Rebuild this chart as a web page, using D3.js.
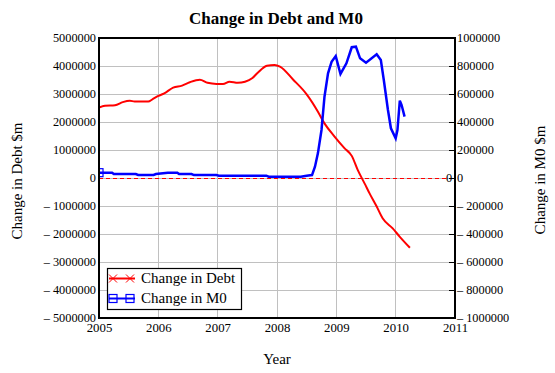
<!DOCTYPE html>
<html>
<head>
<meta charset="utf-8">
<script src="https://cdn.jsdelivr.net/npm/d3@7"></script>
<style>
  body { margin: 0; background: #fff; }
</style>
</head>
<body>
<div id="vis"></div>
<script>
var width = 555;
var height = 373;
var serif = '"Liberation Serif", "DejaVu Serif", "Times New Roman", serif';

// change in debt ($m)
var debtYears = [2005.00, 2005.10, 2005.27, 2005.40, 2005.52, 2005.60, 2005.83, 2005.90, 2006.00, 2006.10,
    2006.25, 2006.40, 2006.53, 2006.70, 2006.83, 2006.98, 2007.09, 2007.20, 2007.34, 2007.46,
    2007.58, 2007.68, 2007.83, 2007.96, 2008.05, 2008.27, 2008.50, 2008.69, 2008.80, 2008.97,
    2009.14, 2009.26, 2009.36, 2009.48, 2009.56, 2009.68, 2009.78, 2009.95, 2010.07, 2010.24];
var debtValues = [2520000, 2580000, 2600000, 2710000, 2760000, 2730000, 2730000, 2810000, 2930000, 3020000,
    3230000, 3300000, 3420000, 3510000, 3400000, 3360000, 3360000, 3440000, 3400000, 3440000,
    3560000, 3770000, 4010000, 4040000, 3980000, 3520000, 2990000, 2370000, 1950000, 1480000,
    1060000, 790000, 290000, -210000, -550000, -1020000, -1440000, -1800000, -2100000, -2490000];

// change in M0 ($m)
var m0Years = [2005.00, 2005.22, 2005.25, 2005.62, 2005.66, 2005.92, 2005.96, 2006.16, 2006.32, 2006.35,
    2006.56, 2006.60, 2006.98, 2007.02, 2007.82, 2007.86, 2008.40, 2008.50, 2008.59, 2008.64,
    2008.69, 2008.75, 2008.80, 2008.86, 2008.92, 2008.99, 2009.07, 2009.17, 2009.26, 2009.33,
    2009.40, 2009.50, 2009.68, 2009.75, 2009.80, 2009.87, 2009.92, 2010.00, 2010.03, 2010.07,
    2010.10, 2010.15];
var m0Values = [38000, 38000, 28500, 28500, 21400, 21400, 28500, 38000, 38000, 28500,
    28500, 21000, 21000, 16500, 16500, 9500, 9500, 16000, 21000, 81000,
    178000, 343000, 580000, 748000, 830000, 871000, 743000, 819000, 934000, 938000,
    855000, 824000, 883000, 843000, 700000, 486000, 355000, 283000, 343000, 552000,
    521000, 438000];

var yearTicks = [2005, 2006, 2007, 2008, 2009, 2010, 2011];
var debtTicks = [5000000, 4000000, 3000000, 2000000, 1000000, 0, -1000000, -2000000, -3000000, -4000000, -5000000];
var m0Ticks = [1000000, 800000, 600000, 400000, 200000, 0, -200000, -400000, -600000, -800000, -1000000];
var seriesNames = ['Change in Debt', 'Change in M0'];

var debt = debtYears.map(function (y, i) { return [y, debtValues[i]]; });
var m0 = m0Years.map(function (y, i) { return [y, m0Values[i]]; });

var plot = { left: 99, right: 455, top: 38, bottom: 318 };

var x = d3.scaleLinear().domain([2005, 2011]).range([plot.left, plot.right]);
var yL = d3.scaleLinear().domain([-5000000, 5000000]).range([plot.bottom, plot.top]);
var yR = d3.scaleLinear().domain([-1000000, 1000000]).range([plot.bottom, plot.top]);

function fmt(d) {
    return d < 0 ? '\u2013 ' + Math.abs(d) : String(d);
}

var svg = d3.select('#vis').append('svg')
    .attr('width', width)
    .attr('height', height)
    .style('font-family', serif);

svg.append('defs').append('clipPath').attr('id', 'clip')
    .append('rect')
    .attr('x', plot.left).attr('y', plot.top)
    .attr('width', plot.right - plot.left).attr('height', plot.bottom - plot.top);

// grid
var grid = svg.append('g').attr('shape-rendering', 'crispEdges');
grid.selectAll('.vg').data(yearTicks).enter().append('line')
    .attr('x1', function (d) { return x(d); }).attr('x2', function (d) { return x(d); })
    .attr('y1', plot.top).attr('y2', plot.bottom)
    .attr('stroke', '#c0c0c0');
grid.selectAll('.hg').data(debtTicks).enter().append('line')
    .attr('x1', plot.left).attr('x2', plot.right)
    .attr('y1', function (d) { return yL(d); }).attr('y2', function (d) { return yL(d); })
    .attr('stroke', '#c0c0c0');

// zero line
svg.append('line')
    .attr('x1', plot.left).attr('x2', plot.right)
    .attr('y1', yL(0)).attr('y2', yL(0))
    .attr('stroke', '#ff0000')
    .attr('stroke-dasharray', '4,3')
    .attr('shape-rendering', 'crispEdges');

// lines
var lines = svg.append('g').attr('clip-path', 'url(#clip)');
lines.append('path')
    .datum(debt)
    .attr('fill', 'none')
    .attr('stroke', '#ff0000')
    .attr('stroke-width', 2)
    .attr('d', d3.line().curve(d3.curveMonotoneX).x(function (d) { return x(d[0]); }).y(function (d) { return yL(d[1]); }));
lines.append('path')
    .datum(m0)
    .attr('fill', 'none')
    .attr('stroke', '#0000ff')
    .attr('stroke-width', 2.5)
    .attr('d', d3.line().x(function (d) { return x(d[0]); }).y(function (d) { return yR(d[1]); }));
lines.append('rect')
    .attr('x', x(m0[0][0]) - 4).attr('y', yR(m0[0][1]) - 4)
    .attr('width', 8).attr('height', 8)
    .attr('fill', 'none').attr('stroke', '#0000ff').attr('stroke-width', 1.2);

// frame
svg.append('rect')
    .attr('x', plot.left).attr('y', plot.top)
    .attr('width', plot.right - plot.left).attr('height', plot.bottom - plot.top)
    .attr('fill', 'none').attr('stroke', '#000').attr('stroke-width', 1.3)
    .attr('shape-rendering', 'crispEdges');

// axes
var xAxis = svg.append('g')
    .attr('transform', 'translate(0,' + plot.bottom + ')')
    .call(d3.axisBottom(x).tickValues(yearTicks).tickFormat(d3.format('d')).tickSize(0).tickPadding(5));
var yAxisL = svg.append('g')
    .attr('transform', 'translate(' + plot.left + ',0)')
    .call(d3.axisLeft(yL).tickValues(debtTicks).tickFormat(fmt).tickSize(0).tickPadding(3));
var yAxisR = svg.append('g')
    .attr('transform', 'translate(' + plot.right + ',0)')
    .call(d3.axisRight(yR).tickValues(m0Ticks).tickFormat(fmt).tickSizeInner(-6).tickSizeOuter(0).tickPadding(2));

[xAxis, yAxisL, yAxisR].forEach(function (a) {
    a.attr('font-family', null).attr('font-size', null);
    a.select('.domain').remove();
    a.selectAll('text').style('font-size', '12.3px').style('font-family', serif).attr('fill', '#000');
    a.selectAll('line').attr('stroke', '#000').attr('shape-rendering', 'crispEdges');
});
xAxis.selectAll('text').style('font-size', '12.8px');

// stray zero drawn under the right-hand tick
svg.append('text')
    .attr('x', plot.right - 6).attr('y', yR(0)).attr('dy', '0.32em')
    .attr('text-anchor', 'middle')
    .style('font-size', '12.3px')
    .text('0');

// titles
svg.append('text')
    .attr('x', 276).attr('y', 24)
    .attr('text-anchor', 'middle')
    .style('font-size', '17px').style('font-weight', 'bold')
    .text('Change in Debt and M0');
svg.append('text')
    .attr('x', 277).attr('y', 364)
    .attr('text-anchor', 'middle')
    .style('font-size', '15px')
    .text('Year');
svg.append('text')
    .attr('transform', 'translate(22,181) rotate(-90)')
    .attr('text-anchor', 'middle')
    .style('font-size', '15px')
    .text('Change in Debt $m');
svg.append('text')
    .attr('transform', 'translate(545,180) rotate(-90)')
    .attr('text-anchor', 'middle')
    .style('font-size', '15px')
    .text('Change in M0 $m');

// legend
var legend = svg.append('g');
legend.append('rect')
    .attr('x', 107.5).attr('y', 268.5).attr('width', 134).attr('height', 41)
    .attr('fill', '#fff').attr('stroke', '#000').attr('stroke-width', 1.2);
var legColors = ['#ff0000', '#0000ff'];
seriesNames.forEach(function (name, i) {
    var ly = 278.5 + i * 20;
    legend.append('line')
        .attr('x1', 109).attr('x2', 135).attr('y1', ly).attr('y2', ly)
        .attr('stroke', legColors[i]).attr('stroke-width', 2);
    [113, 130].forEach(function (mx) {
        if (i === 0) {
            legend.append('path')
                .attr('d', 'M' + (mx - 4) + ',' + (ly - 4) + 'L' + (mx + 4) + ',' + (ly + 4) +
                    'M' + (mx - 4) + ',' + (ly + 4) + 'L' + (mx + 4) + ',' + (ly - 4))
                .attr('stroke', legColors[i]).attr('stroke-width', 1);
        } else {
            legend.append('rect')
                .attr('x', mx - 4).attr('y', ly - 4).attr('width', 8).attr('height', 8)
                .attr('fill', 'none').attr('stroke', legColors[i]).attr('stroke-width', 1.2);
        }
    });
    legend.append('text')
        .attr('x', 141).attr('y', ly + 4.5)
        .style('font-size', '15px')
        .text(name);
});
</script>
</body>
</html>
